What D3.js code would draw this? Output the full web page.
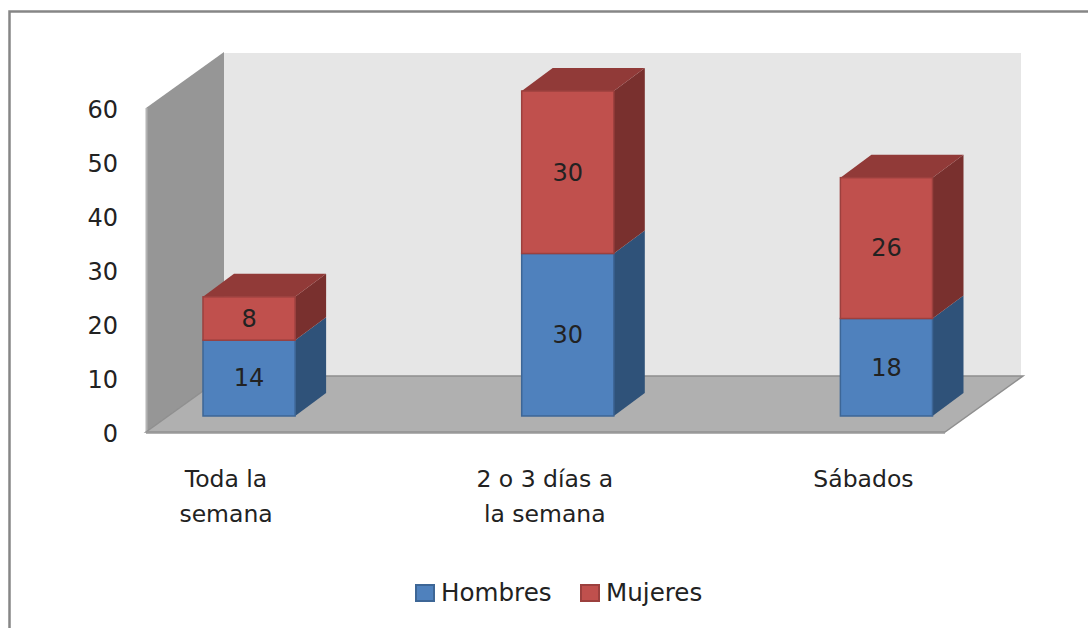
<!DOCTYPE html>
<html>
<head>
<meta charset="utf-8">
<script src="https://cdn.jsdelivr.net/npm/d3@7"></script>
<style>
  html, body { margin: 0; padding: 0; background: #fff; }
  text { font-family: "DejaVu Sans", sans-serif; fill: #222; }
</style>
</head>
<body>
<div id="chart"></div>
<script>
const categories = ['Toda la semana', '2 o 3 días a la semana', 'Sábados'];
const categoryLines = [['Toda la', 'semana'], ['2 o 3 días a', 'la semana'], ['Sábados']];
const hombres = [14, 30, 18];
const mujeres = [8, 30, 26];
const seriesNames = ['Hombres', 'Mujeres'];
const yTicks = [0, 10, 20, 30, 40, 50, 60];

const width = 1088;
const height = 628;

const colors = {
  Hombres: { front: '#4f81bd', edge: '#3d6696', side: '#2f5279' },
  Mujeres: { front: '#c0504d', edge: '#9c403e', side: '#79302e', top: '#913a38' }
};

const svg = d3.select('#chart').append('svg')
  .attr('width', width)
  .attr('height', height)
  .style('display', 'block');

// Frame, only the top and left edges are in view
svg.append('path')
  .attr('d', `M${width},11.5 H9.5 V${height}`)
  .attr('fill', 'none')
  .attr('stroke', '#868686')
  .attr('stroke-width', 2.5);

// Scales
const yAxisScale = d3.scaleLinear().domain([0, 60]).range([432, 108]);
const yBar = d3.scaleLinear().domain([0, 60]).range([416, 91]);
const x = d3.scaleBand()
  .domain(categories)
  .range([89.7, 1045.8])
  .paddingInner(0.711)
  .paddingOuter(0.3555);

// 3D box depth of the room and of the bars
const room = { left: 146, right: 945, dx: 78, dy: -56 };
const barDx = 31;
const barDy = -23;

const floorY = yAxisScale(0);
const wallTopY = yAxisScale(60);

// Back wall
svg.append('rect')
  .attr('x', room.left + room.dx)
  .attr('y', wallTopY + room.dy + 1)
  .attr('width', room.right - room.left - 2)
  .attr('height', floorY - wallTopY)
  .attr('fill', '#e6e6e6');

// Side wall
svg.append('polygon')
  .attr('points', [
    [room.left, floorY],
    [room.left, wallTopY],
    [room.left + room.dx, wallTopY + room.dy],
    [room.left + room.dx, floorY + room.dy]
  ].join(' '))
  .attr('fill', '#969696');
svg.append('line')
  .attr('x1', room.left + 0.5).attr('x2', room.left + 0.5)
  .attr('y1', wallTopY).attr('y2', floorY)
  .attr('stroke', '#b4b4b4')
  .attr('stroke-width', 2);

// Floor
svg.append('polygon')
  .attr('points', [
    [room.left, floorY],
    [room.left + room.dx, floorY + room.dy],
    [room.right + room.dx, floorY + room.dy],
    [room.right, floorY]
  ].join(' '))
  .attr('fill', '#b0b0b0')
  .attr('stroke', '#8f8f8f')
  .attr('stroke-width', 1.5);
svg.append('line')
  .attr('x1', room.left).attr('x2', room.right)
  .attr('y1', floorY + 0.5).attr('y2', floorY + 0.5)
  .attr('stroke', '#999')
  .attr('stroke-width', 2.5);

// Stacked bars
const rows = categories.map((c, i) => ({ category: c, Hombres: hombres[i], Mujeres: mujeres[i] }));
const stacked = d3.stack().keys(seriesNames)(rows);
const bw = x.bandwidth();

const series = svg.selectAll('.series')
  .data(stacked)
  .enter().append('g')
  .attr('class', 'series');

const seg = series.selectAll('.seg')
  .data(s => s.map(d => ({ key: s.key, y0: d[0], y1: d[1], category: d.data.category, last: s.key === 'Mujeres' })))
  .enter().append('g')
  .attr('class', 'seg');

// Side face
seg.append('polygon')
  .attr('points', d => {
    const xr = x(d.category) + bw;
    return [
      [xr, yBar(d.y0)],
      [xr, yBar(d.y1)],
      [xr + barDx, yBar(d.y1) + barDy],
      [xr + barDx, yBar(d.y0) + barDy]
    ].join(' ');
  })
  .attr('fill', d => colors[d.key].side);

// Top face, only the upper series shows one
seg.filter(d => d.last).append('polygon')
  .attr('points', d => {
    const xl = x(d.category);
    const yt = yBar(d.y1);
    return [
      [xl, yt],
      [xl + barDx, yt + barDy],
      [xl + bw + barDx, yt + barDy],
      [xl + bw, yt]
    ].join(' ');
  })
  .attr('fill', d => colors[d.key].top);

// Front face
seg.append('rect')
  .attr('x', d => x(d.category))
  .attr('y', d => yBar(d.y1))
  .attr('width', bw)
  .attr('height', d => yBar(d.y0) - yBar(d.y1))
  .attr('fill', d => colors[d.key].front)
  .attr('stroke', d => colors[d.key].edge)
  .attr('stroke-width', 1.5);

// Data labels
seg.append('text')
  .attr('x', d => x(d.category) + bw / 2)
  .attr('y', d => yBar((d.y0 + d.y1) / 2))
  .attr('dy', '.35em')
  .attr('text-anchor', 'middle')
  .style('font-size', '24px')
  .text(d => d.y1 - d.y0);

// Y axis labels
const yAxis = d3.axisLeft(yAxisScale).tickValues(yTicks).tickSize(0).tickPadding(0);
const yG = svg.append('g')
  .attr('transform', 'translate(118,1.5)')
  .call(yAxis);
yG.select('.domain').remove();
yG.selectAll('text')
  .style('font-size', '24px')
  .style('font-family', '"DejaVu Sans", sans-serif')
  .attr('fill', '#222');

// Category labels, set back from the bar like the front edge of the floor
const catG = svg.selectAll('.cat')
  .data(categories)
  .enter().append('text')
  .attr('class', 'cat')
  .attr('text-anchor', 'middle')
  .style('font-size', '23.5px');
catG.selectAll('tspan')
  .data((d, i) => categoryLines[i].map(line => ({ line, category: d })))
  .enter().append('tspan')
  .attr('x', d => x(d.category) + bw / 2 - 23)
  .attr('y', (d, i) => 487 + i * 35)
  .text(d => d.line);

// Legend
const legendX = [415, 580];
const legend = svg.selectAll('.legend')
  .data(seriesNames)
  .enter().append('g')
  .attr('class', 'legend')
  .attr('transform', (d, i) => `translate(${legendX[i]},584)`);
legend.append('rect')
  .attr('x', 1).attr('y', 1)
  .attr('width', 18).attr('height', 16)
  .attr('fill', d => colors[d].front)
  .attr('stroke', d => colors[d].edge)
  .attr('stroke-width', 2);
legend.append('text')
  .attr('x', 26)
  .attr('y', 17)
  .style('font-size', '24.6px')
  .text(d => d);
</script>
</body>
</html>
